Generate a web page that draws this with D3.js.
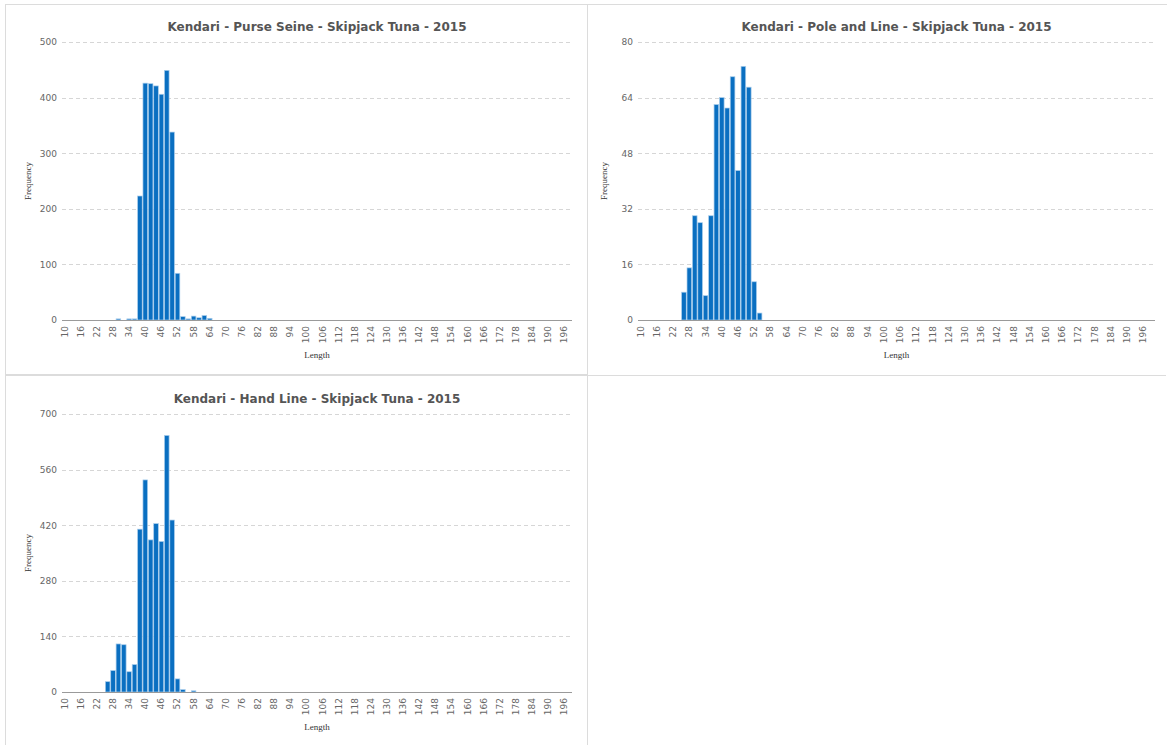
<!DOCTYPE html>
<html>
<head>
<meta charset="utf-8">
<script src="https://cdn.jsdelivr.net/npm/d3@7"></script>
<style>
  html, body { margin: 0; padding: 0; background: #fff; }
  svg { display: block; }
</style>
</head>
<body>
<svg id="chart" width="1167" height="745"></svg>
<script>
// Length classes (cm) shown on every x axis
const lengths = [10,12,14,16,18,20,22,24,26,28,30,32,34,36,38,40,42,44,46,48,50,52,54,56,58,60,
  62,64,66,68,70,72,74,76,78,80,82,84,86,88,90,92,94,96,98,100,102,104,106,108,110,112,114,116,
  118,120,122,124,126,128,130,132,134,136,138,140,142,144,146,148,150,152,154,156,158,160,162,164,
  166,168,170,172,174,176,178,180,182,184,186,188,190,192,194,196];
const tickLengths = [10,16,22,28,34,40,46,52,58,64,70,76,82,88,94,100,106,112,118,124,130,136,
  142,148,154,160,166,172,178,184,190,196];

// Non-empty length classes for each gear; all other classes are zero
const purseSeineLengths = [30,34,36,38,40,42,44,46,48,50,52,54,56,58,60,62,64];
const purseSeineFreq    = [2,2,2,223,426,425,421,406,449,338,84,6,2,7,4,8,3];

const poleLineLengths = [26,28,30,32,34,36,38,40,42,44,46,48,50,52,54];
const poleLineFreq    = [8,15,30,28,7,30,62,64,61,70,43,73,67,11,2];

const handLineLengths = [26,28,30,32,34,36,38,40,42,44,46,48,50,52,54,58];
const handLineFreq    = [26,54,121,119,51,69,410,534,383,424,379,646,433,33,6,3];

const purseSeineTicks = [0,100,200,300,400,500];
const poleLineTicks   = [0,16,32,48,64,80];
const handLineTicks   = [0,140,280,420,560,700];

const titles = [
  "Kendari - Purse Seine - Skipjack Tuna - 2015",
  "Kendari - Pole and Line - Skipjack Tuna - 2015",
  "Kendari - Hand Line - Skipjack Tuna - 2015"
];

const svg = d3.select("#chart");

// Panel frames
const frame = svg.append("g").attr("fill", "none").attr("stroke", "#dcdcdc").attr("stroke-width", 1);
frame.append("line").attr("x1", 5).attr("x2", 1167).attr("y1", 4.5).attr("y2", 4.5);
frame.append("line").attr("x1", 5.5).attr("x2", 5.5).attr("y1", 4).attr("y2", 745);
frame.append("line").attr("x1", 587.5).attr("x2", 587.5).attr("y1", 4).attr("y2", 745);
frame.append("line").attr("x1", 5).attr("x2", 587).attr("y1", 375).attr("y2", 375).attr("stroke-width", 2);
frame.append("line").attr("x1", 587).attr("x2", 1166).attr("y1", 375.5).attr("y2", 375.5);

function histogram(cfg) {
  const g = svg.append("g");
  const {left, right, bandEnd, top, bottom} = cfg;

  const x = d3.scaleBand().domain(lengths).range([left, bandEnd]).paddingInner(0.14).paddingOuter(0.07);
  const y = d3.scaleLinear().domain([0, cfg.yTicks[cfg.yTicks.length - 1]]).range([bottom, top]);

  // Full series including empty classes
  const freq = new Map(cfg.binLengths.map((l, i) => [l, cfg.binValues[i]]));
  const series = lengths.map(l => ({len: l, val: freq.get(l) || 0}));

  // dashed horizontal grid
  g.append("g").selectAll("line").data(cfg.yTicks.filter(t => t > 0)).join("line")
    .attr("x1", left).attr("x2", right)
    .attr("y1", d => Math.round(y(d)) + 0.5).attr("y2", d => Math.round(y(d)) + 0.5)
    .attr("stroke", "#d6d6d6").attr("stroke-dasharray", "4,3");

  // y axis labels
  const yAxis = d3.axisLeft(y).tickValues(cfg.yTicks).tickSize(0).tickPadding(5);
  const ya = g.append("g").attr("transform", `translate(${left},0)`).call(yAxis);
  ya.select(".domain").remove();
  ya.selectAll("text").attr("font-family", "DejaVu Sans, Verdana, sans-serif")
    .attr("font-size", 9).attr("fill", "#666");

  // bars
  g.append("g").selectAll("rect").data(series.filter(d => d.val > 0)).join("rect")
    .attr("x", d => x(d.len))
    .attr("width", x.bandwidth())
    .attr("y", d => y(d.val))
    .attr("height", d => bottom - y(d.val))
    .attr("fill", "#0a6fc1")
    .attr("stroke", "#a9cdec")
    .attr("stroke-width", 0.7);

  // x axis
  const xAxis = d3.axisBottom(x).tickValues(tickLengths).tickSize(0).tickPadding(4);
  const xa = g.append("g").attr("transform", `translate(0,${bottom})`).call(xAxis);
  xa.select(".domain").remove();
  xa.selectAll("text")
    .attr("font-family", "DejaVu Sans, Verdana, sans-serif")
    .attr("font-size", 9).attr("fill", "#666")
    .attr("transform", "rotate(-90)")
    .attr("text-anchor", "end")
    .attr("x", -6).attr("y", 0).attr("dy", "0.33em");

  g.append("line").attr("x1", left).attr("x2", right)
    .attr("y1", bottom + 0.5).attr("y2", bottom + 0.5)
    .attr("stroke", "#9a9a9a").attr("stroke-width", 1);

  // title and axis titles
  g.append("text").attr("x", (left + right) / 2).attr("y", top - 11)
    .attr("text-anchor", "middle")
    .attr("font-family", "DejaVu Sans, Verdana, sans-serif")
    .attr("font-weight", "bold").attr("font-size", 12).attr("fill", "#555")
    .text(cfg.title);

  g.append("text").attr("x", (left + right) / 2).attr("y", bottom + 38)
    .attr("text-anchor", "middle")
    .attr("font-family", "Liberation Serif, Times New Roman, serif")
    .attr("font-size", 9).attr("fill", "#333")
    .text("Length");

  g.append("text")
    .attr("transform", `translate(${left - 31},${(top + bottom) / 2}) rotate(-90)`)
    .attr("text-anchor", "middle")
    .attr("font-family", "Liberation Serif, Times New Roman, serif")
    .attr("font-size", 9).attr("fill", "#333")
    .text("Frequency");
}

histogram({left: 62, right: 572, bandEnd: 567, top: 42, bottom: 320,
  yTicks: purseSeineTicks, binLengths: purseSeineLengths, binValues: purseSeineFreq, title: titles[0]});
histogram({left: 638, right: 1155, bandEnd: 1146, top: 42, bottom: 320,
  yTicks: poleLineTicks, binLengths: poleLineLengths, binValues: poleLineFreq, title: titles[1]});
histogram({left: 62, right: 572, bandEnd: 567, top: 414, bottom: 692,
  yTicks: handLineTicks, binLengths: handLineLengths, binValues: handLineFreq, title: titles[2]});
</script>
</body>
</html>
